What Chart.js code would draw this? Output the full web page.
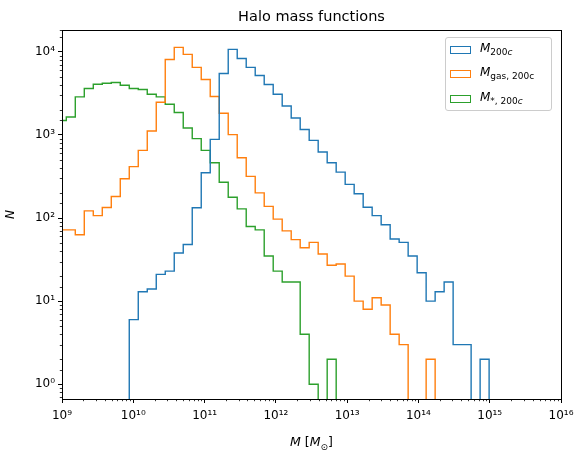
<!DOCTYPE html>
<html>
<head>
<meta charset="utf-8">
<script src="https://cdn.jsdelivr.net/npm/chart.js@4"></script>
<style>
  body { margin: 0; background: #fff; font-family: "DejaVu Sans", sans-serif; }
  #wrap { position: relative; width: 586px; height: 460px; }
  #title { position: absolute; top: 8px; left: 62px; width: 499px; text-align: center; font-size: 14.5px; }
  #xtitle { position: absolute; top: 434px; left: 62px; width: 499px; text-align: center; font-size: 12.5px; }
  #xtitle sub { font-size: 9px; }
  #legend { position: absolute; left: 445px; top: 37px; width: 107px; height: 74px; border: 1px solid #ccc; border-radius: 3px; box-sizing: border-box; font-size: 12px; }
  .item { position: absolute; left: 4px; height: 14px; }
  .item span.patch { position: absolute; left: 0; top: 3px; width: 21px; height: 8px; border: 1.3px solid; box-sizing: border-box; }
  .item span.lbl { position: absolute; left: 30px; top: -2px; white-space: nowrap; font-style: italic; }
  .item sub { font-style: normal; font-size: 9px; }
</style>
</head>
<body>
<div id="wrap">
  <canvas id="c" width="586" height="460"></canvas>
  <div id="title">Halo mass functions</div>
  <div id="xtitle"><i>M</i> [<i>M</i><sub>⊙</sub>]</div>
  <div id="legend">
    <div class="item" style="top:5px"><span class="patch" style="border-color:#1f77b4"></span><span class="lbl">M<sub>200<i>c</i></sub></span></div>
    <div class="item" style="top:29px"><span class="patch" style="border-color:#ff7f0e"></span><span class="lbl">M<sub>gas, 200c</sub></span></div>
    <div class="item" style="top:54px"><span class="patch" style="border-color:#2ca02c"></span><span class="lbl">M<sub>*, 200<i>c</i></sub></span></div>
  </div>
</div>
<script>
// histogram bins: log10 edges, first bin index is -1
var BIN_START = 8.934;
var BIN_WIDTH = 0.1262;

// counts per bin, with the index of their first bin
var totalStart = 7;
var totalCounts = [6, 13, 14, 21, 23, 38, 48, 133, 351, 885, 5490, 10690, 8320, 6490, 5190, 4040,
  3090, 2230, 1600, 1160, 861, 622, 463, 357, 254, 196, 135, 107, 83, 56, 51, 35, 22, 10, 13, 17, 3, 3, 0, 2];
var gasStart = -1;
var gasCounts = [72, 72, 63, 122, 107, 134, 182, 297, 415, 652, 1114, 2472, 8090, 11300, 9310, 6490,
  4650, 2897, 1820, 1009, 532, 317, 201, 138, 97, 70, 55, 44, 51, 37, 27, 28, 20, 10, 8, 11, 9, 4, 3, 0, 0, 2];
var starStart = -1;
var starCounts = [1490, 1644, 2866, 3614, 4077, 4190, 4275, 3963, 3614, 3517, 3090, 2866, 2340, 1858,
  1211, 902, 652, 463, 270, 178, 129, 79, 72, 35, 23, 17, 17, 4, 1, 0, 2];

var xTickPowers = [9, 10, 11, 12, 13, 14, 15, 16];
var yTickPowers = [0, 1, 2, 3, 4];

var SUP = { '0': '⁰', '1': '¹', '2': '²', '3': '³', '4': '⁴', '5': '⁵', '6': '⁶', '7': '⁷', '8': '⁸', '9': '⁹' };
function pow10Label(p) {
  return '10' + String(p).split('').map(function(d) { return SUP[d]; }).join('');
}
function isInt(v) { return Math.abs(v - Math.round(v)) < 1e-9; }

var FLOOR = 0.01;
function stepPoints(start, counts) {
  var pts = [];
  pts.push({ x: BIN_START + (start + 1) * BIN_WIDTH, y: FLOOR });
  counts.forEach(function(c, i) {
    pts.push({ x: BIN_START + (start + 1 + i) * BIN_WIDTH, y: c > 0 ? c : FLOOR });
  });
  pts.push({ x: BIN_START + (start + 1 + counts.length) * BIN_WIDTH, y: FLOOR });
  return pts;
}

function series(label, start, counts, color) {
  return {
    label: label, data: stepPoints(start, counts), borderColor: color, borderWidth: 1.4,
    stepped: 'before', pointRadius: 0, fill: false, tension: 0
  };
}

// frame on all four sides plus short minor ticks
var frame = {
  id: 'frame',
  afterDraw: function(chart) {
    var a = chart.chartArea, ctx = chart.ctx;
    ctx.save();
    ctx.strokeStyle = '#000';
    ctx.lineWidth = 1;
    ctx.strokeRect(a.left + 0.5, a.top + 0.5, a.right - a.left, a.bottom - a.top);
    ctx.lineWidth = 0.8;
    chart.scales.x.ticks.forEach(function(t) {
      if (isInt(t.value)) return;
      var px = Math.round(chart.scales.x.getPixelForValue(t.value)) + 0.5;
      ctx.beginPath(); ctx.moveTo(px, a.bottom); ctx.lineTo(px, a.bottom + 2.2); ctx.stroke();
    });
    chart.scales.y.ticks.forEach(function(t) {
      if (isInt(Math.log10(t.value))) return;
      var py = Math.round(chart.scales.y.getPixelForValue(t.value)) + 0.5;
      if (py < a.top || py > a.bottom) return;
      ctx.beginPath(); ctx.moveTo(a.left, py); ctx.lineTo(a.left - 2.2, py); ctx.stroke();
    });
    ctx.restore();
  }
};

new Chart(document.getElementById('c'), {
  type: 'line',
  data: {
    datasets: [
      series('M200c', totalStart, totalCounts, '#1f77b4'),
      series('Mgas,200c', gasStart, gasCounts, '#ff7f0e'),
      series('M*,200c', starStart, starCounts, '#2ca02c')
    ]
  },
  options: {
    responsive: false,
    animation: false,
    layout: { padding: { top: 30, right: 25, left: 0, bottom: 0 } },
    plugins: { legend: { display: false }, tooltip: { enabled: false }, title: { display: false } },
    scales: {
      x: {
        type: 'linear', min: 9, max: 16,
        afterBuildTicks: function(scale) {
          var t = [];
          xTickPowers.forEach(function(p) {
            t.push({ value: p });
            if (p < 16) for (var m = 2; m < 10; m++) t.push({ value: p + Math.log10(m) });
          });
          scale.ticks = t;
        },
        afterFit: function(scale) { scale.height = 61; },
        ticks: {
          autoSkip: false, maxRotation: 0, color: '#000', padding: 6, font: { family: 'DejaVu Sans', size: 12 },
          callback: function(v) { return isInt(v) ? pow10Label(Math.round(v)) : ''; }
        },
        grid: {
          drawOnChartArea: false, tickLength: 4,
          color: function(c) { return c.tick && isInt(c.tick.value) ? '#000' : 'rgba(0,0,0,0)'; }
        },
        border: { color: '#000' }
      },
      y: {
        type: 'logarithmic', min: 0.665, max: 18300,
        afterFit: function(scale) { scale.width = 62; },
        ticks: {
          autoSkip: false, color: '#000', font: { family: 'DejaVu Sans', size: 12 },
          callback: function(v) {
            var l = Math.log10(v);
            return isInt(l) && yTickPowers.indexOf(Math.round(l)) >= 0 ? pow10Label(Math.round(l)) : '';
          }
        },
        grid: {
          drawOnChartArea: false, tickLength: 4,
          color: function(c) { return c.tick && isInt(Math.log10(c.tick.value)) ? '#000' : 'rgba(0,0,0,0)'; }
        },
        border: { color: '#000' },
        title: { display: true, text: 'N', color: '#000', font: { family: 'DejaVu Sans', size: 12, style: 'italic' } }
      }
    }
  },
  plugins: [frame]
});
</script>
</body>
</html>
